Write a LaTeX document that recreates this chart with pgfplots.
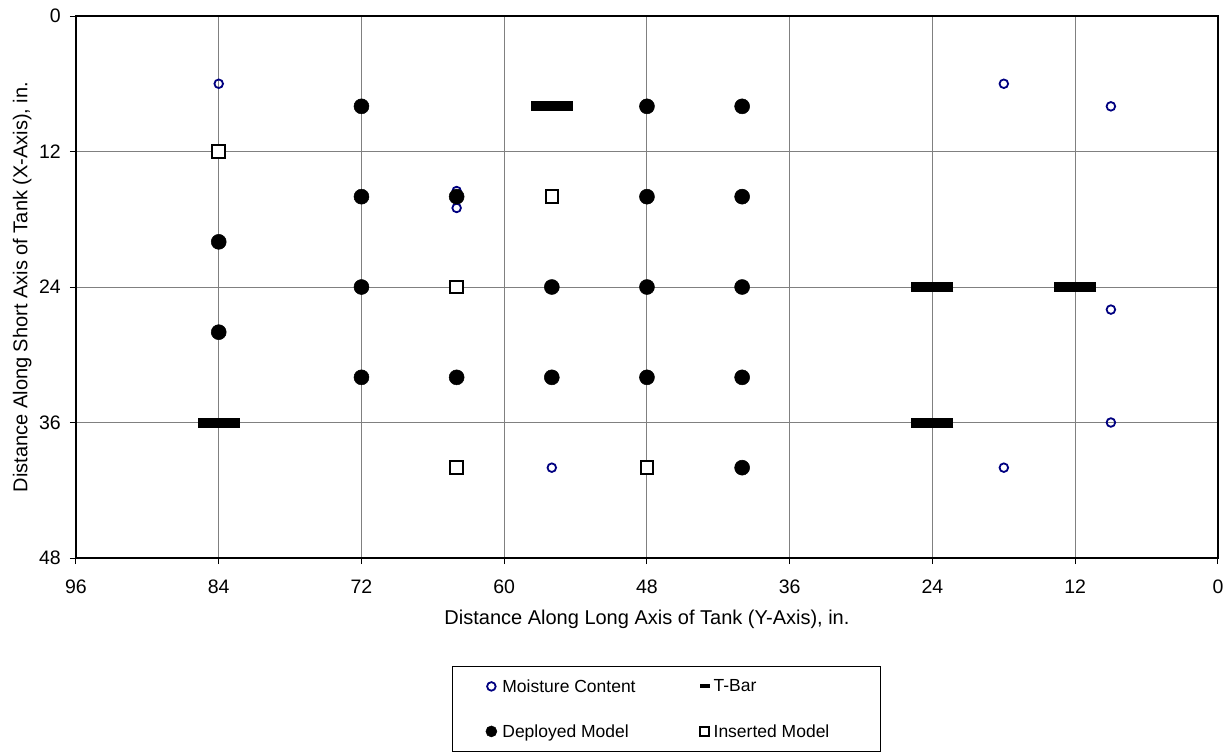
\documentclass[border=0pt]{standalone}
\usepackage{pgfplots}
\pgfplotsset{compat=1.18}
\usepackage{fontspec}
\setmainfont{Liberation Sans}
\definecolor{mcblue}{RGB}{0,0,128}
\definecolor{gridgray}{RGB}{128,128,128}

\begin{document}
\begin{tikzpicture}
\useasboundingbox (0,0) rectangle (1232bp,753bp);
\begin{axis}[
  at={(76bp,195bp)}, anchor=south west,
  scale only axis, width=1142bp, height=542bp,
  xmin=0, xmax=96, ymin=0, ymax=48,
  x dir=reverse, y dir=reverse,
  xtick={0,12,...,96}, ytick={0,12,...,48},
  grid=major, major grid style={gridgray, line width=1bp},
  axis line style={black, line width=2bp},
  tick align=outside, major tick length=6bp,
  major tick style={black, line width=1bp},
  xtick pos=left, ytick pos=left,
  tick label style={font=\fontsize{19.5bp}{23bp}\selectfont},
  /pgf/number format/assume math mode=true,
  xticklabel style={anchor=north, inner sep=0pt, yshift=-16bp},
  yticklabel style={anchor=east, inner sep=0pt, xshift=-9bp},
  xlabel={Distance Along Long Axis of Tank (Y-Axis), in.},
  ylabel={Distance Along Short Axis of Tank (X-Axis), in.},
  every axis x label/.style={at={(axis description cs:0.5,-0.1125)}, anchor=center,
    font=\fontsize{20bp}{24bp}\selectfont},
  every axis y label/.style={at={(axis description cs:-0.047,0.5)}, rotate=90, anchor=center,
    font=\fontsize{20bp}{24bp}\selectfont},
  legend columns=2,
  legend cell align=left,
  legend style={at={(axis description cs:0.32925,-0.19926)}, anchor=north west,
    draw=black, line width=0.8bp, fill=white,
    inner xsep=0pt, inner ysep=10bp, row sep=25bp,
    font=\fontsize{17.5bp}{21bp}\selectfont,
    nodes={inner sep=0pt},
    /tikz/every even column/.append style={column sep=47bp}},
]
% Moisture Content
\addplot[only marks, mark=o, mark size=4.3bp,
  mark options={draw=mcblue, line width=1.8bp},
  legend image code/.code={
    \draw[draw=none] (-39bp,-10bp) rectangle (11bp,10bp);
    \draw[mark=o, mark size=4.3bp, mark options={draw=mcblue, line width=1.8bp}] plot coordinates {(0bp,0bp)};}]
coordinates {(84,6) (18,6) (9,8) (64,15.5) (64,17) (56,40) (18,40) (9,26) (9,36)};
\addlegendentry{Moisture Content}
% T-Bar
\addplot[only marks, mark=-, mark size=21bp,
  mark options={draw=black, line width=10bp},
  legend image code/.code={
    \draw[draw=none] (-22bp,-10bp) rectangle (9bp,10bp);
    \draw[mark=-, mark size=5bp, mark options={draw=black, line width=4bp}] plot coordinates {(0bp,0bp)};}]
coordinates {(84,36) (56,8) (24,24) (12,24) (24,36)};
\addlegendentry{T-Bar}
% Deployed Model
\addplot[only marks, mark=*, mark size=7.5bp,
  mark options={draw=black, fill=black, line width=0.5bp},
  legend image code/.code={
    \draw[draw=none] (-39bp,-10bp) rectangle (11bp,10bp);
    \draw[mark=*, mark size=5.5bp, mark options={draw=black, fill=black, line width=0.5bp}] plot coordinates {(0bp,0bp)};}]
coordinates {(84,20) (84,28) (72,8) (72,16) (72,24) (72,32) (64,16) (64,32)
  (56,24) (56,32) (48,8) (48,16) (48,24) (48,32) (40,8) (40,16) (40,24) (40,32) (40,40)};
\addlegendentry{Deployed Model}
% Inserted Model
\addplot[only marks, mark=square*, mark size=6.3bp,
  mark options={draw=black, fill=white, line width=2bp},
  legend image code/.code={
    \draw[draw=none] (-22bp,-10bp) rectangle (9bp,10bp);
    \draw[mark=square*, mark size=4.4bp, mark options={draw=black, fill=white, line width=1.8bp}] plot coordinates {(0bp,0bp)};}]
coordinates {(84,12) (56,16) (64,24) (64,40) (48,40)};
\addlegendentry{Inserted Model\hspace*{51bp}}
\end{axis}
\end{tikzpicture}
\end{document}
